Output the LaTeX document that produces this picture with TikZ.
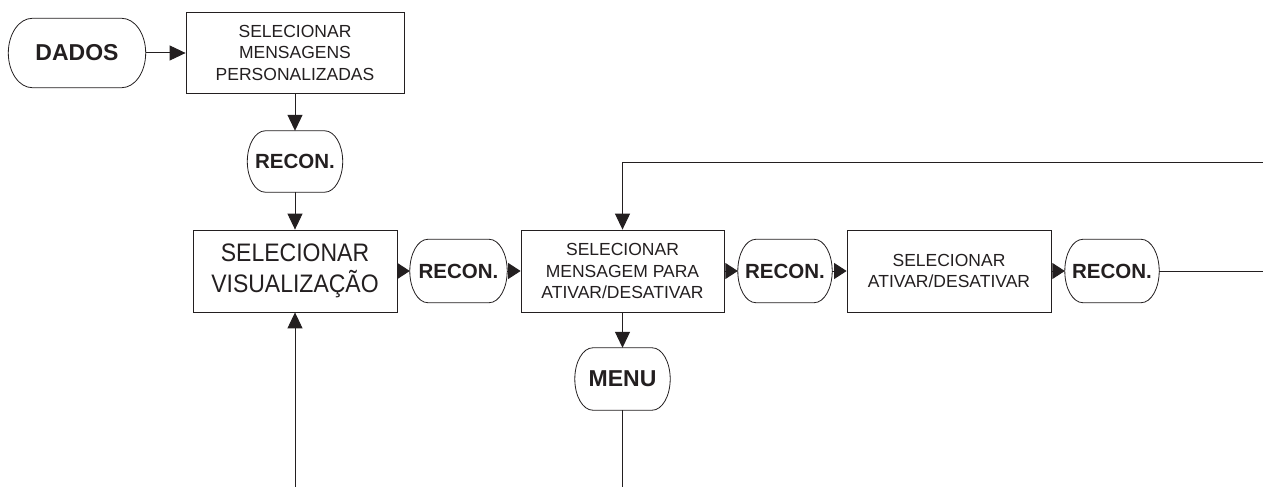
\documentclass[tikz,border=0pt]{standalone}
\usepackage{fontspec}
\setmainfont{Liberation Sans}
\usetikzlibrary{arrows.meta,calc}
\definecolor{ink}{HTML}{231F20}
\newcommand\stadium[2]{%
  \draw[ink, line width=0.8pt] let \p1=(#1.north), \p2=(#1.south) in
    ([xshift=#2]#1.north west) -- ([xshift=-#2]#1.north east)
    arc[start angle=90,end angle=-90,x radius=#2,y radius={0.5*(\y1-\y2)}]
    -- ([xshift=#2]#1.south west)
    arc[start angle=270,end angle=90,x radius=#2,y radius={0.5*(\y1-\y2)}] -- cycle;}
\begin{document}
\begin{tikzpicture}[x=1pt,y=-1pt,
  box/.style={draw=ink, line width=0.8pt, align=center, text=ink, inner sep=0pt},
  small/.style={font=\fontsize{17.5}{21.5}\selectfont},
  big/.style={font=\fontsize{23}{26.5}\selectfont},
  term/.style={inner sep=0pt, text=ink, font=\bfseries\fontsize{20.5}{24}\selectfont},
  termbig/.style={term, font=\bfseries\fontsize{23}{27}\selectfont},
  conn/.style={draw=ink, line width=1pt, -{Triangle[length=16pt,width=15pt]}},
  shortconn/.style={draw=ink, line width=1pt, -{Triangle[length=12.5pt,width=16pt]}},
  plain/.style={draw=ink, line width=1pt}]
\useasboundingbox (0,0) rectangle (1263,487);
\fill[white] (0,0) rectangle (1263,487);

\node[termbig, minimum width=137pt, minimum height=69pt] (dados) at (77,53) {DADOS};
\node[box, small, minimum width=218pt, minimum height=81pt] (b1) at (295,52.5) {SELECIONAR\\MENSAGENS\\PERSONALIZADAS};
\node[term, minimum width=95pt, minimum height=61pt] (r1) at (295,161.5) {RECON.};
\node[box, big, minimum width=204pt, minimum height=82pt] (b2) at (295,271) {\scalebox{1}[1.1]{\begin{tabular}{@{}c@{}}SELECIONAR\\VISUALIZA\c{C}\~AO\end{tabular}}};
\node[term, minimum width=97pt, minimum height=63pt] (r2) at (458.5,271) {RECON.};
\node[box, small, minimum width=203pt, minimum height=82pt] (b3) at (622.5,271) {SELECIONAR\\MENSAGEM PARA\\ATIVAR/DESATIVAR};
\node[term, minimum width=94pt, minimum height=63pt] (r3) at (785,271) {RECON.};
\node[box, small, minimum width=204pt, minimum height=82pt] (b4) at (949,271) {SELECIONAR\\ATIVAR/DESATIVAR};
\node[term, minimum width=94pt, minimum height=63pt] (r4) at (1112,271) {RECON.};
\node[termbig, minimum width=95pt, minimum height=62pt] (menu) at (622.5,379) {MENU};

\stadium{dados}{24pt}
\stadium{r1}{18pt}
\stadium{r2}{18pt}
\stadium{r3}{18pt}
\stadium{r4}{18pt}
\stadium{menu}{18pt}

\coordinate (rend) at (1263,271);
\coordinate (ftop) at (1263,162);
\coordinate (mend) at (622.5,487);
\coordinate (vstart) at (295,487);

\draw[conn] (dados.east) -- (dados.east -| b1.west);
\draw[conn] (b1) -- (r1);
\draw[conn] (r1) -- (b2);
\draw[shortconn] (b2.east) -- (r2.west);
\draw[shortconn] (r2.east) -- (b3.west);
\draw[shortconn] (b3.east) -- (r3.west);
\draw[shortconn] (r3.east) -- (b4.west);
\draw[shortconn] (b4.east) -- (r4.west);
\draw[plain] (r4.east) -- (rend);
\draw[conn] (ftop) -- (ftop -| b3.north) -- (b3.north);
\draw[conn] (b3) -- (menu);
\draw[plain] (menu) -- (mend);
\draw[conn] (vstart) -- (b2);
\end{tikzpicture}
\end{document}
